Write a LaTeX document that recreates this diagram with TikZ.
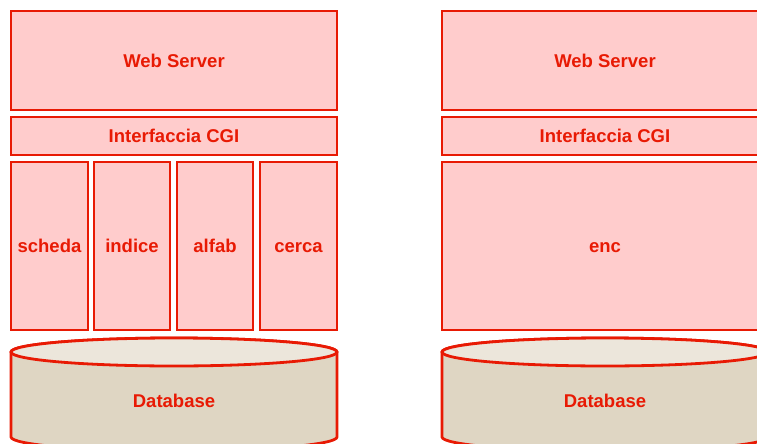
\documentclass[tikz,border=0pt]{standalone}
\usepackage{fontspec}
\setmainfont{Liberation Sans}
\definecolor{edgered}{RGB}{232,26,4}
\definecolor{boxpink}{RGB}{255,204,204}
\definecolor{dbbody}{RGB}{223,214,195}
\definecolor{dbtop}{RGB}{236,230,219}
\begin{document}
\begin{tikzpicture}[x=1pt,y=-1pt,
  layer/.style={draw=edgered, fill=boxpink, line width=2.8pt, inner sep=0pt,
    text=edgered, text height=13.2pt, text depth=0pt,
    font=\fontsize{18.5}{22}\selectfont\bfseries},
  dbline/.style={draw=edgered, line width=2.8pt},
  dblabel/.style={text=edgered, inner sep=0pt, text height=13.2pt, text depth=0pt,
    font=\fontsize{18.5}{22}\selectfont\bfseries}]
\useasboundingbox (0,0) rectangle (757,444);
\clip (0,0) rectangle (757,444);

% left stack: four CGI programs
\node[layer, minimum width=326pt, minimum height=99pt] (wsL) at (174,60.5) {Web Server};
\node[layer, minimum width=326pt, minimum height=38pt] (cgiL) at (174,136) {Interfaccia CGI};
\node[layer, minimum width=77pt, minimum height=168pt] (scheda) at (49.5,246) {scheda};
\node[layer, minimum width=76pt, minimum height=168pt] (indice) at (132,246) {indice};
\node[layer, minimum width=76pt, minimum height=168pt] (alfab) at (215,246) {alfab};
\node[layer, minimum width=77pt, minimum height=168pt] (cerca) at (298.5,246) {cerca};

% left database cylinder
\path[dbline, fill=dbbody] (11,352) -- (11,437) arc[start angle=180, end angle=0, x radius=163, y radius=14]
  -- (337,352) arc[start angle=0, end angle=-180, x radius=163, y radius=14] -- cycle;
\path[dbline, fill=dbtop] (174,352) ellipse[x radius=163, y radius=14];
\node[dblabel] (dbL) at (174,401) {Database};

% right stack: single CGI program
\node[layer, minimum width=326pt, minimum height=99pt] (wsR) at (605,60.5) {Web Server};
\node[layer, minimum width=326pt, minimum height=38pt] (cgiR) at (605,136) {Interfaccia CGI};
\node[layer, minimum width=326pt, minimum height=168pt] (enc) at (605,246) {enc};

% right database cylinder
\path[dbline, fill=dbbody] (442,352) -- (442,437) arc[start angle=180, end angle=0, x radius=163, y radius=14]
  -- (768,352) arc[start angle=0, end angle=-180, x radius=163, y radius=14] -- cycle;
\path[dbline, fill=dbtop] (605,352) ellipse[x radius=163, y radius=14];
\node[dblabel] (dbR) at (605,401) {Database};
\end{tikzpicture}
\end{document}
